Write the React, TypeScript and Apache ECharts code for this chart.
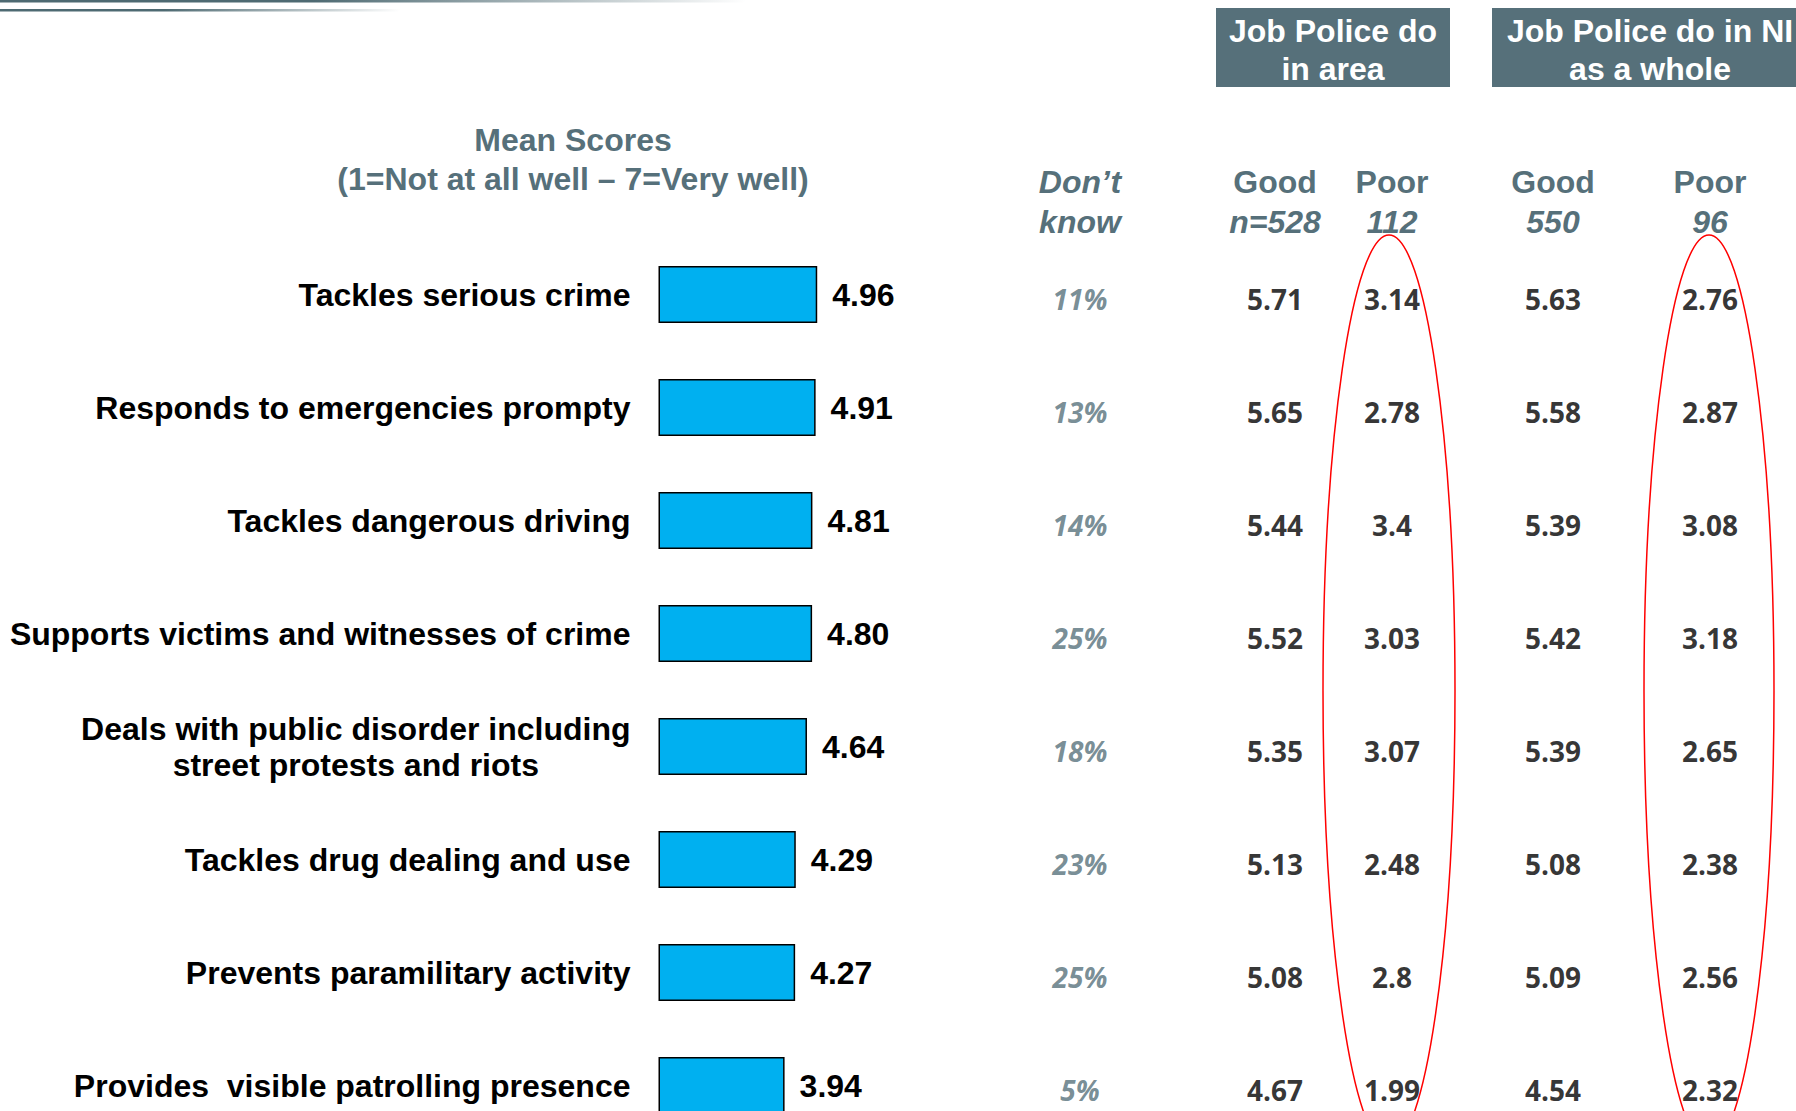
import React, { useEffect, useRef } from "react";
import * as echarts from "echarts";

// ---- Data ----
const categories = [
  "Tackles serious crime",
  "Responds to emergencies prompty",
  "Tackles dangerous driving",
  "Supports victims and witnesses of crime",
  "Deals with public disorder including\nstreet protests and riots",
  "Tackles drug dealing and use",
  "Prevents paramilitary activity",
  "Provides  visible patrolling presence",
];
const meanScores = [4.96, 4.91, 4.81, 4.8, 4.64, 4.29, 4.27, 3.94];
const dontKnowPct = [11, 13, 14, 25, 18, 23, 25, 5];
const goodArea = [5.71, 5.65, 5.44, 5.52, 5.35, 5.13, 5.08, 4.67];
const poorArea = [3.14, 2.78, 3.4, 3.03, 3.07, 2.48, 2.8, 1.99];
const goodNI = [5.63, 5.58, 5.39, 5.42, 5.39, 5.08, 5.09, 4.54];
const poorNI = [2.76, 2.87, 3.08, 3.18, 2.65, 2.38, 2.56, 2.32];
const columnHeads = [
  ["Don\u2019t", "know"],
  ["Good", "n=528"],
  ["Poor", "112"],
  ["Good", "550"],
  ["Poor", "96"],
];
const groupHeads = ["Job Police do\nin area", "Job Police do in NI\nas a whole"];
const meanTitle = ["Mean Scores", "(1=Not at all well \u2013 7=Very well)"];
const scaleMin = 0;
const scaleMax = 7;

// ---- Layout (positions/styles only) ----
const TEAL = "#56707A";
const ARIAL = "Liberation Sans, Arial, sans-serif";
const TABLE_FONT = "Open Sans, Noto Sans, sans-serif";
const colX = [1080, 1275, 1392, 1553, 1710];
const GRID_TOP = 238;
const GRID_H = 904;

export default function App() {
  const ref = useRef<HTMLDivElement>(null);

  useEffect(() => {
    if (!ref.current) return;
    const chart = echarts.init(ref.current, null, { renderer: "svg" });

    const tableCols: { vals: number[]; fmt: (v: number) => string; italic: boolean }[] = [
      { vals: dontKnowPct, fmt: (v) => v + "%", italic: true },
      { vals: goodArea, fmt: (v) => String(v), italic: false },
      { vals: poorArea, fmt: (v) => String(v), italic: false },
      { vals: goodNI, fmt: (v) => String(v), italic: false },
      { vals: poorNI, fmt: (v) => String(v), italic: false },
    ];

    const tableSeries = tableCols.map((col, c) => ({
      type: "scatter",
      xAxisIndex: 1,
      yAxisIndex: 1,
      symbolSize: 0,
      itemStyle: { color: "transparent" },
      silent: true,
      data: col.vals.map((v, i) => [colX[c], i, v]),
      encode: { x: 0, y: 1 },
      label: {
        show: true,
        position: "inside",
        offset: [0, 4],
        formatter: (p: any) => "{v|" + col.fmt(p.value[2]) + "}",
        rich: {
          v: {
            fontSize: 28,
            fontWeight: 700,
            fontStyle: col.italic ? "italic" : "normal",
            fontFamily: TABLE_FONT,
            color: col.italic ? TEAL : "#000",
          },
        },
      },
    }));

    const gradient = (stop: number) =>
      new echarts.graphic.LinearGradient(0, 0, 1, 0, [
        { offset: 0, color: "#4E6A72" },
        { offset: stop, color: "#4E6A72" },
        { offset: 1, color: "rgba(78,106,114,0)" },
      ]);

    const headerTexts: any[] = [];
    columnHeads.forEach((h, c) => {
      headerTexts.push({
        type: "text",
        x: colX[c],
        y: 182,
        style: {
          text: h[0],
          align: "center",
          verticalAlign: "middle",
          fill: TEAL,
          fontSize: 32,
          fontWeight: "bold",
          fontStyle: c === 0 ? "italic" : "normal",
          fontFamily: ARIAL,
        },
      });
      headerTexts.push({
        type: "text",
        x: colX[c],
        y: 222,
        style: {
          text: h[1],
          align: "center",
          verticalAlign: "middle",
          fill: TEAL,
          fontSize: 32,
          fontWeight: "bold",
          fontStyle: "italic",
          fontFamily: ARIAL,
        },
      });
    });

    const option: any = {
      animation: false,
      backgroundColor: "#fff",
      grid: [
        {
          left: 658.5,
          top: GRID_TOP,
          width: 224,
          height: GRID_H,
          containLabel: false,
          outerBoundsMode: "none",
        },
        {
          left: 0,
          top: GRID_TOP,
          width: 1796,
          height: GRID_H,
          containLabel: false,
          outerBoundsMode: "none",
        },
      ],
      xAxis: [
        { type: "value", gridIndex: 0, min: scaleMin, max: scaleMax, show: false },
        { type: "value", gridIndex: 1, min: 0, max: 1796, show: false },
      ],
      yAxis: [
        {
          type: "category",
          gridIndex: 0,
          inverse: true,
          data: categories,
          axisLine: { show: false },
          axisTick: { show: false },
          splitLine: { show: false },
          axisLabel: {
            interval: 0,
            margin: 28,
            color: "#000",
            fontSize: 32,
            fontWeight: "bold",
            fontFamily: ARIAL,
            lineHeight: 36,
            formatter: (v: string) =>
              v
                .split("\n")
                .map((line) => "{c|" + line + "}")
                .join("\n"),
            rich: {
              c: {
                align: "center",
                color: "#000",
                fontSize: 32,
                fontWeight: "bold",
                fontFamily: ARIAL,
                lineHeight: 36,
              },
            },
          },
        },
        {
          type: "category",
          gridIndex: 1,
          inverse: true,
          data: categories,
          show: false,
        },
      ],
      series: [
        {
          type: "bar",
          xAxisIndex: 0,
          yAxisIndex: 0,
          data: meanScores,
          barWidth: 57,
          itemStyle: { color: "#00B0F0", borderColor: "#000", borderWidth: 1.5 },
          label: {
            show: true,
            position: "right",
            distance: 15,
            formatter: (p: any) => Number(p.value).toFixed(2),
            color: "#000",
            fontSize: 32,
            fontWeight: "bold",
            fontFamily: ARIAL,
          },
        },
        ...tableSeries,
      ],
      graphic: [
        { type: "rect", x: 0, y: 0, shape: { width: 746, height: 2.5 }, style: { fill: gradient(0.42) } },
        { type: "rect", x: 0, y: 9, shape: { width: 400, height: 2.5 }, style: { fill: gradient(0.41) } },
        { type: "rect", x: 1216, y: 8, shape: { width: 234, height: 79 }, style: { fill: TEAL } },
        { type: "rect", x: 1492, y: 8, shape: { width: 320, height: 79 }, style: { fill: TEAL } },
        {
          type: "text",
          x: 1333,
          y: 50,
          style: {
            text: groupHeads[0],
            align: "center",
            verticalAlign: "middle",
            fill: "#fff",
            fontSize: 32,
            fontWeight: "bold",
            fontFamily: ARIAL,
            lineHeight: 38,
          },
        },
        {
          type: "text",
          x: 1650,
          y: 50,
          style: {
            text: groupHeads[1],
            align: "center",
            verticalAlign: "middle",
            fill: "#fff",
            fontSize: 32,
            fontWeight: "bold",
            fontFamily: ARIAL,
            lineHeight: 38,
          },
        },
        {
          type: "text",
          x: 573,
          y: 159,
          style: {
            text: meanTitle.join("\n"),
            align: "center",
            verticalAlign: "middle",
            fill: TEAL,
            fontSize: 32,
            fontWeight: "bold",
            fontFamily: ARIAL,
            lineHeight: 39,
          },
        },
        ...headerTexts,
        {
          type: "ellipse",
          shape: { cx: 1389, cy: 691, rx: 66, ry: 456 },
          style: { fill: "none", stroke: "#FF0000", lineWidth: 1.5 },
          z: 100,
        },
        {
          type: "ellipse",
          shape: { cx: 1709, cy: 691, rx: 65, ry: 456 },
          style: { fill: "none", stroke: "#FF0000", lineWidth: 1.5 },
          z: 100,
        },
      ],
    };

    chart.setOption(option);
    return () => chart.dispose();
  }, []);

  return (
    <div
      ref={ref}
      style={{ position: "absolute", left: 0, top: 0, width: 1796, height: 1111, background: "#fff" }}
    />
  );
}
